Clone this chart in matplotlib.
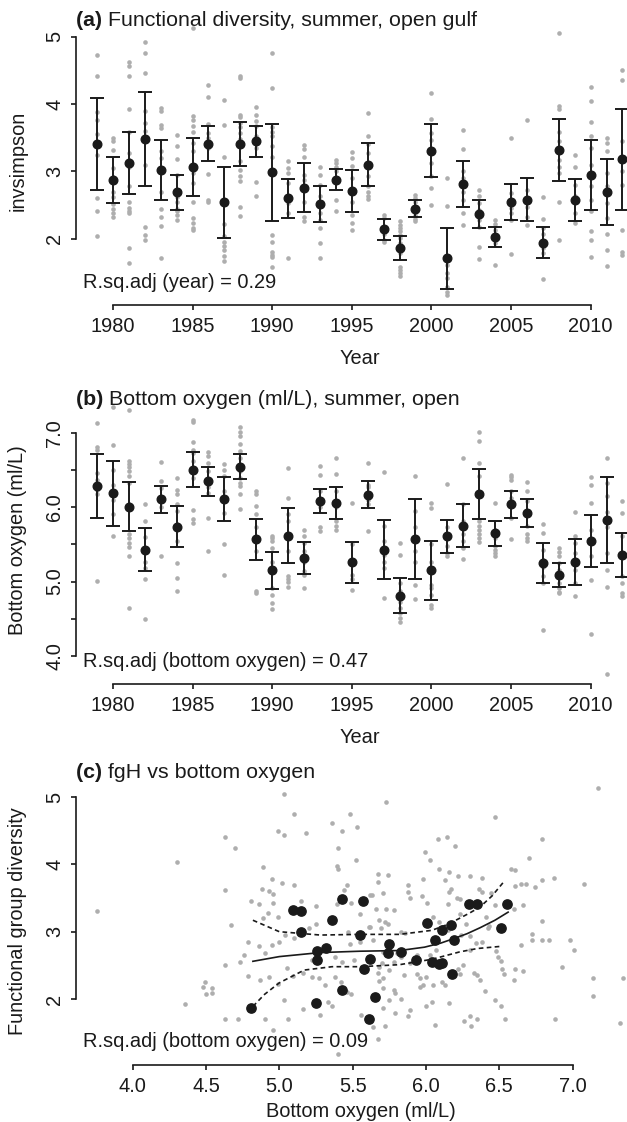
import matplotlib
matplotlib.use("Agg")
import matplotlib.pyplot as plt

plt.rcParams['font.family'] = ['Liberation Sans', 'DejaVu Sans']

# ---------------- data ----------------
years = list(range(1979, 2013))

div_mean = [3.41, 2.87, 3.13, 3.48, 3.02, 2.69, 3.06, 3.41, 2.54, 3.41, 3.45, 2.99,
            2.60, 2.76, 2.52, 2.88, 2.71, 3.10, 2.14, 1.86, 2.45, 3.31, 1.71, 2.82,
            2.37, 2.03, 2.55, 2.58, 1.94, 3.32, 2.58, 2.95, 2.70, 3.18]
div_ci = [0.68, 0.34, 0.46, 0.70, 0.45, 0.26, 0.43, 0.26, 0.53, 0.33, 0.23, 0.72,
          0.29, 0.36, 0.27, 0.16, 0.31, 0.32, 0.15, 0.18, 0.13, 0.39, 0.45, 0.34,
          0.21, 0.15, 0.27, 0.32, 0.23, 0.46, 0.31, 0.52, 0.49, 0.75]

oxy_mean = [6.29, 6.19, 6.01, 5.43, 6.11, 5.74, 6.51, 6.35, 6.11, 6.55, 5.57, 5.15,
            5.62, 5.32, 6.09, 6.06, 5.26, 6.17, 5.43, 4.81, 5.58, 5.15, 5.61, 5.75,
            6.18, 5.65, 6.04, 5.93, 5.25, 5.09, 5.26, 5.55, 5.83, 5.36]
oxy_ci = [0.43, 0.44, 0.33, 0.29, 0.18, 0.28, 0.24, 0.20, 0.30, 0.17, 0.28, 0.25,
          0.37, 0.22, 0.16, 0.22, 0.28, 0.18, 0.40, 0.24, 0.54, 0.40, 0.22, 0.29,
          0.34, 0.17, 0.18, 0.19, 0.27, 0.16, 0.31, 0.35, 0.58, 0.30]

div_samples = [
    [4.72, 4.42, 3.88, 3.77, 3.55, 3.40, 3.25, 2.60, 2.41, 2.04],
    [3.50, 3.45, 3.32, 3.05, 2.92, 2.70, 2.62, 2.52, 2.45, 2.38, 2.32],
    [4.63, 4.56, 4.41, 3.92, 3.59, 3.27, 3.17, 3.07, 2.78, 2.55, 2.46, 2.41, 2.38, 1.87, 1.65],
    [4.92, 4.75, 4.46, 3.90, 3.72, 3.60, 3.10, 2.18, 2.06, 1.98],
    [3.94, 3.89, 3.69, 3.64, 3.30, 3.20, 2.70, 2.45, 2.33, 2.19, 1.71],
    [3.54, 3.38, 3.18, 2.95, 2.72, 2.62, 2.55, 2.45, 2.42, 2.35, 2.28],
    [5.13, 3.82, 3.77, 3.68, 3.58, 3.42, 3.30, 3.10, 2.98, 2.83, 2.55, 2.31, 2.23, 2.16, 2.13],
    [4.28, 4.10, 3.70, 3.57, 3.50, 3.35, 2.96, 2.58, 2.55],
    [4.06, 3.69, 3.22, 2.22, 2.04, 1.95, 1.90, 1.83, 1.75, 1.67],
    [4.42, 4.38, 3.84, 3.80, 3.72, 3.66, 3.57, 3.48, 3.15, 3.02, 2.94, 2.86, 2.48, 2.34],
    [3.95, 3.83, 3.75, 3.67, 3.53, 3.42, 3.35, 2.84, 2.64],
    [4.75, 4.24, 3.66, 3.58, 3.52, 3.37, 3.22, 2.06, 1.95, 1.80, 1.76, 1.73, 1.58],
    [3.16, 3.05, 2.97, 2.83, 2.63, 2.53, 2.38, 1.72],
    [3.39, 3.34, 3.22, 2.95, 2.88, 2.55, 2.33, 2.26],
    [3.07, 2.95, 2.80, 2.63, 2.38, 2.28, 2.16, 1.94, 1.71],
    [3.17, 3.12, 3.07, 3.00, 2.84, 2.58, 2.42],
    [3.29, 3.20, 3.08, 2.90, 2.55, 2.36, 2.24, 2.13],
    [3.86, 3.52, 3.40, 3.27, 2.93, 2.78, 2.69, 2.63, 2.59],
    [2.36, 2.31, 2.18, 2.08, 1.99, 1.95],
    [2.26, 2.21, 2.16, 2.11, 2.06, 2.01, 1.94, 1.79, 1.59, 1.54, 1.49, 1.45],
    [2.65, 2.60, 2.55, 2.48, 2.42, 2.36, 2.30, 2.27],
    [4.17, 3.78, 3.57, 3.47, 3.27, 3.12, 2.93, 2.75, 2.51],
    [2.91, 2.49, 1.61, 1.49, 1.42, 1.29, 1.22, 1.17],
    [3.61, 3.33, 3.00, 2.90, 2.80, 2.70, 2.58, 2.38, 2.21],
    [2.73, 2.63, 2.53, 2.43, 2.28, 2.18, 1.88, 1.70],
    [2.28, 2.22, 2.13, 2.03, 1.94, 1.61],
    [3.49, 2.68, 2.55, 2.46, 2.38, 2.28, 1.78],
    [3.77, 2.73, 2.60, 2.48, 2.33, 2.21],
    [2.62, 2.30, 2.16, 2.08, 1.86, 1.79, 1.40],
    [5.05, 3.97, 3.93, 3.58, 3.45, 3.30, 3.17, 3.07, 2.98, 2.55, 1.98],
    [3.24, 3.07, 2.80, 2.63, 2.38, 2.24],
    [4.25, 4.04, 3.74, 3.52, 3.35, 3.10, 2.78, 2.58, 2.41, 2.12, 1.99, 1.73],
    [3.50, 3.42, 3.30, 2.98, 2.78, 2.53, 2.31, 2.08, 1.83, 1.60],
    [4.50, 4.36, 3.45, 3.22, 3.00, 2.80, 2.13, 1.81, 1.76],
]

oxy_samples = [
    [7.14, 6.81, 6.78, 6.47, 6.37, 6.24, 6.18, 5.01],
    [7.35, 6.84, 6.50, 6.30, 6.10, 5.91, 5.62],
    [7.32, 6.63, 6.58, 6.54, 6.49, 6.42, 6.33, 6.04, 5.64, 5.59, 5.52, 5.46, 5.35, 4.64],
    [6.04, 5.82, 5.60, 5.40, 5.27, 5.18, 5.03, 4.50],
    [6.61, 6.36, 6.26, 6.10, 6.00, 5.34],
    [6.40, 6.24, 6.18, 6.04, 5.95, 5.77, 5.55, 5.25, 5.05, 4.87],
    [7.18, 7.15, 6.88, 6.78, 6.74, 6.63, 6.40, 5.97, 5.84, 5.79],
    [6.75, 6.69, 6.60, 6.49, 6.31, 6.27, 6.20, 5.86, 5.41],
    [6.59, 6.51, 6.42, 6.22, 6.11, 5.93, 5.51, 5.09],
    [7.09, 7.02, 6.96, 6.85, 6.76, 6.67, 6.49, 6.40, 6.33, 6.29, 6.18, 5.98],
    [6.22, 6.18, 6.02, 5.91, 5.73, 5.41, 4.87, 4.85],
    [5.61, 5.59, 5.55, 5.45, 5.27, 5.14, 4.91, 4.82, 4.71, 4.63],
    [6.53, 6.13, 5.91, 5.81, 5.61, 5.41, 5.08, 5.04, 4.99, 4.93],
    [5.69, 5.62, 5.52, 5.41, 5.27, 5.14, 5.09, 4.91],
    [6.56, 6.44, 6.22, 6.00, 5.73, 5.68],
    [6.67, 6.45, 6.22, 6.00, 5.82, 5.75, 5.70],
    [6.06, 5.50, 5.27, 5.09, 5.03, 4.89],
    [6.60, 6.30, 6.27, 6.10, 6.05, 5.68],
    [6.48, 5.75, 5.55, 5.36, 5.27, 5.18, 4.78],
    [5.52, 5.36, 4.98, 4.87, 4.80, 4.73, 4.64, 4.58, 4.51, 4.46],
    [6.42, 5.95, 5.73, 5.41, 5.27, 4.96, 4.76],
    [6.06, 5.99, 5.50, 5.27, 4.96, 4.91, 4.82, 4.69, 4.64],
    [6.32, 5.73, 5.59, 5.48, 5.39, 5.34],
    [6.67, 6.04, 5.82, 5.64, 5.55, 5.45, 5.31],
    [7.02, 6.89, 6.60, 6.42, 6.18, 5.82, 5.75, 5.70, 5.64, 5.59, 5.54],
    [6.06, 5.70, 5.59, 5.48, 5.43, 5.39, 5.34],
    [6.44, 6.41, 6.37, 6.22, 6.13, 5.86, 5.58],
    [6.34, 6.22, 6.09, 5.75, 5.64, 5.59, 5.55],
    [5.78, 5.65, 5.43, 5.29, 5.20, 5.07, 4.98, 4.35],
    [5.45, 5.40, 5.34, 5.25, 5.16, 5.07, 4.98, 4.91, 4.86, 4.84],
    [5.94, 5.61, 5.52, 5.38, 5.16, 4.98, 4.81],
    [6.41, 6.30, 6.06, 5.70, 5.52, 5.34, 5.02, 4.29],
    [6.66, 6.33, 6.15, 5.94, 5.74, 5.39, 5.16, 4.93, 3.75],
    [6.08, 5.92, 5.61, 5.34, 5.07, 4.98, 4.84, 4.80],
]

# panel (c) raw points: bottom oxygen (x) vs functional group diversity (y)
fgh_oxy = [3.76, 4.30, 4.495, 4.48, 4.54, 4.54, 4.50, 4.36,
           5.03, 5.10, 4.99, 5.03, 5.18, 5.36, 5.43, 5.48, 5.53, 4.63, 4.70, 5.40, 5.52, 5.39,
           5.40, 4.89, 4.63, 4.95, 5.02, 5.10, 4.88, 4.93, 4.96, 4.81, 4.86, 4.96, 5.46, 5.44,
           5.15, 4.92, 4.89, 4.67, 4.99, 5.25, 5.39, 5.49, 5.55, 5.63, 5.04, 5.10, 5.20, 5.25,
           5.47, 5.61, 4.79, 4.86, 4.90, 4.95, 5.00, 4.76, 4.73, 5.48, 5.55, 5.22, 5.38, 5.43,
           5.51, 4.63, 4.79, 4.87, 4.93, 4.99, 5.05, 5.09, 5.16, 5.22, 5.27, 5.31, 5.38, 5.42,
           5.46, 5.49, 5.03, 5.16, 5.28, 5.33, 5.36, 4.63, 4.72, 4.90, 5.06, 4.96, 5.40, 5.64,
           5.56,
           5.73, 6.47, 6.08, 6.14, 6.20, 5.99, 6.03, 6.09, 5.67, 5.74, 5.67, 6.16, 6.13, 6.22,
           6.30, 6.38, 5.98, 5.88, 5.88, 6.17, 6.16, 6.36, 6.38, 6.44, 5.62, 5.71, 5.89, 5.97,
           6.15, 6.21, 6.23, 6.01, 6.58, 6.61, 6.61, 6.65, 6.68, 6.74, 6.70, 6.66, 6.60, 6.47,
           6.41, 5.66, 5.73, 5.78, 5.68, 5.72, 5.74, 5.69, 5.62, 5.83, 5.86, 6.05, 6.09, 6.15,
           6.23, 6.27, 6.30, 6.24, 6.34, 6.38, 6.42, 6.43, 6.48, 6.49, 6.51, 5.64, 5.74, 5.71,
           5.80, 5.83, 5.78, 5.70, 5.68, 5.75, 5.67, 5.71, 5.68, 5.78, 5.79, 5.83, 5.75, 5.71,
           5.79, 5.89, 6.00, 6.04, 5.96, 5.98, 5.94, 5.96, 6.00, 6.05, 6.11, 6.13, 6.16, 6.06,
           6.25, 6.22, 6.23, 6.30, 6.33, 6.35, 6.37, 6.40, 6.47, 6.51, 6.54, 6.26, 6.30, 6.35,
           6.31, 6.53, 6.52, 6.60, 6.61, 6.66, 6.72, 6.72, 6.65, 5.94, 5.95, 6.03, 6.07, 5.71,
           5.72, 5.67, 5.88, 5.85, 5.89,
           7.17, 7.08, 7.01, 6.98, 6.93, 6.88, 6.87, 6.84, 6.79, 6.79, 6.79, 6.79, 7.14, 7.14,
           7.34, 7.32]
fgh_div = [3.30, 4.04, 2.26, 2.18, 2.16, 2.09, 2.07, 1.93,
           5.05, 4.75, 4.49, 4.43, 4.47, 4.62, 4.50, 4.75, 4.55, 4.41, 4.24, 4.24, 4.06, 3.97,
           3.93, 3.96, 3.62, 3.78, 3.72, 3.69, 3.63, 3.61, 3.56, 3.45, 3.41, 3.42, 3.69, 3.62,
           3.45, 3.28, 3.20, 3.10, 3.22, 3.38, 3.41, 3.42, 3.27, 3.54, 2.95, 2.90, 3.05, 3.11,
           2.99, 3.07, 2.84, 2.79, 2.68, 2.80, 2.84, 2.65, 2.55, 2.82, 2.85, 2.58, 2.63, 2.55,
           2.58, 2.51, 2.34, 2.28, 2.32, 2.23, 2.46, 2.34, 2.38, 2.33, 2.31, 2.21, 2.33, 2.26,
           2.11, 2.07, 1.99, 1.85, 1.76, 1.96, 1.89, 1.71, 1.70, 1.71, 1.71, 1.54, 1.18, 1.58,
           1.76,
           4.92, 4.71, 4.37, 4.41, 4.27, 4.18, 4.06, 3.93, 3.86, 3.84, 3.74, 3.88, 3.77, 3.82,
           3.83, 3.79, 3.78, 3.69, 3.59, 3.64, 3.59, 3.64, 3.59, 3.57, 3.54, 3.57, 3.50, 3.53,
           3.41, 3.50, 3.48, 3.42, 3.93, 3.91, 3.68, 3.71, 3.71, 3.66, 4.10, 3.40, 3.33, 3.40,
           3.22, 3.33, 3.33, 3.32, 3.18, 3.15, 3.11, 3.05, 3.07, 3.00, 2.98, 3.22, 3.15, 3.02,
           3.26, 3.12, 2.94, 2.95, 2.83, 2.85, 3.06, 3.08, 2.71, 2.63, 2.57, 2.88, 2.78, 2.70,
           2.69, 2.63, 2.55, 2.53, 2.48, 2.43, 2.38, 2.31, 2.27, 2.13, 2.09, 2.00, 1.99, 1.86,
           1.79, 1.84, 1.89, 1.96, 2.18, 2.21, 2.37, 2.31, 2.32, 2.21, 2.26, 2.21, 1.94, 1.61,
           2.50, 2.44, 2.37, 2.73, 2.39, 2.36, 2.28, 2.12, 1.99, 1.89, 1.71, 1.68, 1.75, 1.71,
           1.60, 2.37, 2.44, 2.28, 2.44, 2.42, 2.97, 2.88, 2.80, 2.65, 2.60, 2.65, 2.73, 2.16,
           1.60, 1.40, 1.75, 2.36, 2.53,
           5.13, 3.71, 2.73, 2.87, 2.47, 1.71, 3.79, 2.88, 2.88, 3.16, 3.77, 4.38, 2.31, 2.05,
           2.31, 1.65]

# smooth fit (GAM) and its confidence band in panel (c)
fit_x = [4.82, 5.00, 5.28, 5.55, 5.82, 5.99, 6.10, 6.18, 6.28, 6.37, 6.47, 6.56]
fit_y = [2.56, 2.63, 2.69, 2.71, 2.72, 2.77, 2.83, 2.89, 2.97, 3.06, 3.17, 3.29]
upper_x = [4.82, 5.00, 5.28, 5.55, 5.82, 6.04, 6.15, 6.23, 6.30, 6.37, 6.45, 6.53]
upper_y = [3.17, 3.00, 2.95, 2.96, 2.96, 3.02, 3.11, 3.20, 3.28, 3.37, 3.53, 3.74]
lower_x = [4.82, 4.90, 5.00, 5.17, 5.36, 5.55, 5.82, 6.04, 6.23, 6.35, 6.50]
lower_y = [1.89, 2.07, 2.24, 2.43, 2.48, 2.48, 2.51, 2.59, 2.70, 2.75, 2.78]

titles = ["Functional diversity, summer, open gulf",
          "Bottom oxygen (ml/L), summer, open",
          "fgH vs bottom oxygen"]
panel_tags = ["(a)", "(b)", "(c)"]
r2_texts = ["R.sq.adj (year) = 0.29",
            "R.sq.adj (bottom oxygen) = 0.47",
            "R.sq.adj (bottom oxygen) = 0.09"]

# ---------------- style ----------------
W, H = 627, 1122
FS = 14.4
FS_TITLE = 15.4
INK = '#1a1a1a'
GRAY = '#aeaeae'

fig = plt.figure(figsize=(W / 100, H / 100), dpi=100)


def px_axes(left, top, right, bottom):
    return fig.add_axes([left / W, 1 - bottom / H, (right - left) / W, (bottom - top) / H])


def style(ax, xb, yb):
    for s in ['top', 'right']:
        ax.spines[s].set_visible(False)
    for s in ['left', 'bottom']:
        ax.spines[s].set_linewidth(1.2)
        ax.spines[s].set_color(INK)
    ax.spines['bottom'].set_bounds(*xb)
    ax.spines['left'].set_bounds(*yb)
    ax.tick_params(axis='both', length=3.5, width=1.2, color=INK, labelsize=FS,
                   labelcolor=INK, pad=5.0)
    ax.tick_params(axis='y', labelrotation=90)
    for lab in ax.get_yticklabels():
        lab.set_va('center')


def ftext(x, y, s, **kw):
    fig.text(x / W, 1 - y / H, s, fontsize=FS, color=INK, **kw)


def add_title(i, y):
    t = fig.text(76 / W, 1 - y / H, panel_tags[i] + " ", fontsize=FS_TITLE, color=INK,
                 fontweight='bold', va='baseline', ha='left')
    fig.canvas.draw()
    bb = t.get_window_extent()
    fig.text(bb.x1 / W, 1 - y / H, titles[i], fontsize=FS_TITLE, color=INK,
             va='baseline', ha='left')


def year_panel(ax, samples, mean, ci):
    for yr, vals in zip(years, samples):
        ax.scatter([yr] * len(vals), vals, s=11, color=GRAY, linewidths=0, zorder=1)
    ax.errorbar(years, mean, yerr=ci, fmt='none', ecolor=INK, elinewidth=1.4,
                capsize=5, capthick=1.4, zorder=2)
    ax.plot(years, mean, 'o', color=INK, ms=6.2, zorder=3)
    ax.set_xlim(1977.68, 2013.32)
    ax.set_xticks([1980, 1985, 1990, 1995, 2000, 2005, 2010])


# ---- panel (a)
axa = px_axes(76, 17, 643.5, 305)
year_panel(axa, div_samples, div_mean, div_ci)
axa.set_ylim(1.02, 5.29)
axa.set_yticks([2, 3, 4, 5])
style(axa, (1980, 2010), (2, 5))

# ---- panel (b)
axb = px_axes(76, 396.2, 643.5, 684.3)
year_panel(axb, oxy_samples, oxy_mean, oxy_ci)
axb.set_ylim(3.614, 7.50)
axb.set_yticks([4.0, 4.5, 5.0, 5.5, 6.0, 6.5, 7.0])
axb.set_yticklabels(["4.0", "", "5.0", "", "6.0", "", "7.0"])
style(axb, (1980, 2010), (4.0, 7.0))

# ---- panel (c)
axc = px_axes(76, 777.5, 646, 1065)
axc.scatter(fgh_oxy, fgh_div, s=11, color=GRAY, linewidths=0, zorder=1)
axc.plot(fit_x, fit_y, color=INK, lw=1.2, zorder=2)
axc.plot(upper_x, upper_y, color=INK, lw=1.2, ls=(0, (2.8, 2.0)), zorder=2)
axc.plot(lower_x, lower_y, color=INK, lw=1.2, ls=(0, (2.8, 2.0)), zorder=2)
axc.plot(oxy_mean, div_mean, 'o', color=INK, ms=6.7, zorder=3)
axc.set_xlim(3.614, 7.50)
axc.set_ylim(1.02, 5.29)
axc.set_xticks([4.0, 4.5, 5.0, 5.5, 6.0, 6.5, 7.0])
axc.set_xticklabels(["4.0", "4.5", "5.0", "5.5", "6.0", "6.5", "7.0"])
axc.set_yticks([2, 3, 4, 5])
style(axc, (4.0, 7.0), (2, 5))

# ---- titles, labels, annotations
add_title(0, 26)
add_title(1, 405)
add_title(2, 778)

ftext(82.7, 288, r2_texts[0], va='baseline', ha='left', zorder=5)
ftext(82.7, 666.7, r2_texts[1], va='baseline', ha='left', zorder=5)
ftext(82.7, 1046.7, r2_texts[2], va='baseline', ha='left', zorder=5)

ftext(360, 364, "Year", va='baseline', ha='center')
ftext(360, 743, "Year", va='baseline', ha='center')
ftext(361, 1117, "Bottom oxygen (ml/L)", va='baseline', ha='center')

ftext(18, 161, "invsimpson", rotation=90, va='center', ha='center')
ftext(18, 540, "Bottom oxygen (ml/L)", rotation=90, va='center', ha='center')
ftext(18, 921, "Functional group diversity", rotation=90, va='center', ha='center')

fig.savefig("out.png", dpi=100)
